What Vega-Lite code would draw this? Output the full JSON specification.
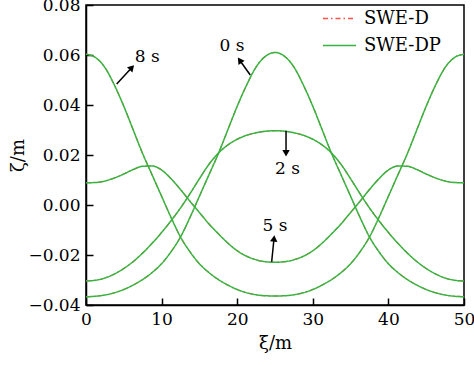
{
  "$schema": "https://vega.github.io/schema/vega-lite/v6.json",
  "width": 378,
  "height": 300,
  "autosize": "none",
  "padding": {"left": 86, "top": 5, "right": 10, "bottom": 60},
  "background": "white",
  "config": {
    "view": {"stroke": "black", "strokeWidth": 1.5},
    "font": "DejaVu Serif",
    "axis": {
      "domainColor": "black", "domainWidth": 1.5,
      "tickColor": "black", "tickWidth": 1.5, "tickSize": -7,
      "labelFont": "DejaVu Serif", "labelFontSize": 17, "labelColor": "black", "labelPadding": 13,
      "titleFont": "DejaVu Serif", "titleFontSize": 18, "titleFontWeight": "normal", "titleColor": "black",
      "grid": false, "labelFlush": false
    },
    "legend": {"labelFont": "DejaVu Serif"},
    "text": {"font": "DejaVu Serif"}
  },
  "datasets": {
    "curves": [
      {"model":"SWE-D","x":0,"0 s":-0.0367,"2 s":-0.0304,"5 s":0.0089,"8 s":0.0603},
      {"model":"SWE-D","x":1.25,"0 s":-0.0365,"2 s":-0.0301,"5 s":0.0090,"8 s":0.0590},
      {"model":"SWE-D","x":2.5,"0 s":-0.0360,"2 s":-0.0292,"5 s":0.0096,"8 s":0.0550},
      {"model":"SWE-D","x":3.75,"0 s":-0.0351,"2 s":-0.0276,"5 s":0.0108,"8 s":0.0480},
      {"model":"SWE-D","x":5,"0 s":-0.0338,"2 s":-0.0254,"5 s":0.0124,"8 s":0.0395},
      {"model":"SWE-D","x":6.25,"0 s":-0.0320,"2 s":-0.0226,"5 s":0.0142,"8 s":0.0300},
      {"model":"SWE-D","x":7.5,"0 s":-0.0298,"2 s":-0.0192,"5 s":0.0155,"8 s":0.0205},
      {"model":"SWE-D","x":8.75,"0 s":-0.0270,"2 s":-0.0153,"5 s":0.0156,"8 s":0.0120},
      {"model":"SWE-D","x":10,"0 s":-0.0235,"2 s":-0.0110,"5 s":0.0140,"8 s":0.0035},
      {"model":"SWE-D","x":11.25,"0 s":-0.0187,"2 s":-0.0063,"5 s":0.0105,"8 s":-0.0050},
      {"model":"SWE-D","x":12.5,"0 s":-0.0128,"2 s":-0.0012,"5 s":0.0062,"8 s":-0.0128},
      {"model":"SWE-D","x":13.75,"0 s":-0.0050,"2 s":0.0045,"5 s":0.0015,"8 s":-0.0187},
      {"model":"SWE-D","x":15,"0 s":0.0035,"2 s":0.0105,"5 s":-0.0030,"8 s":-0.0235},
      {"model":"SWE-D","x":16.25,"0 s":0.0120,"2 s":0.0162,"5 s":-0.0075,"8 s":-0.0270},
      {"model":"SWE-D","x":17.5,"0 s":0.0205,"2 s":0.0207,"5 s":-0.0115,"8 s":-0.0298},
      {"model":"SWE-D","x":18.75,"0 s":0.0300,"2 s":0.0240,"5 s":-0.0152,"8 s":-0.0320},
      {"model":"SWE-D","x":20,"0 s":0.0395,"2 s":0.0263,"5 s":-0.0183,"8 s":-0.0338},
      {"model":"SWE-D","x":21.25,"0 s":0.0480,"2 s":0.0279,"5 s":-0.0205,"8 s":-0.0351},
      {"model":"SWE-D","x":22.5,"0 s":0.0552,"2 s":0.0289,"5 s":-0.0219,"8 s":-0.0359},
      {"model":"SWE-D","x":23.75,"0 s":0.0595,"2 s":0.0295,"5 s":-0.0227,"8 s":-0.0363},
      {"model":"SWE-D","x":25,"0 s":0.0610,"2 s":0.0297,"5 s":-0.0229,"8 s":-0.0364},
      {"model":"SWE-D","x":26.25,"0 s":0.0595,"2 s":0.0295,"5 s":-0.0227,"8 s":-0.0363},
      {"model":"SWE-D","x":27.5,"0 s":0.0552,"2 s":0.0289,"5 s":-0.0219,"8 s":-0.0359},
      {"model":"SWE-D","x":28.75,"0 s":0.0480,"2 s":0.0279,"5 s":-0.0205,"8 s":-0.0351},
      {"model":"SWE-D","x":30,"0 s":0.0395,"2 s":0.0263,"5 s":-0.0183,"8 s":-0.0338},
      {"model":"SWE-D","x":31.25,"0 s":0.0300,"2 s":0.0240,"5 s":-0.0152,"8 s":-0.0320},
      {"model":"SWE-D","x":32.5,"0 s":0.0205,"2 s":0.0207,"5 s":-0.0115,"8 s":-0.0298},
      {"model":"SWE-D","x":33.75,"0 s":0.0120,"2 s":0.0162,"5 s":-0.0075,"8 s":-0.0270},
      {"model":"SWE-D","x":35,"0 s":0.0035,"2 s":0.0105,"5 s":-0.0030,"8 s":-0.0235},
      {"model":"SWE-D","x":36.25,"0 s":-0.0050,"2 s":0.0045,"5 s":0.0015,"8 s":-0.0187},
      {"model":"SWE-D","x":37.5,"0 s":-0.0128,"2 s":-0.0012,"5 s":0.0062,"8 s":-0.0128},
      {"model":"SWE-D","x":38.75,"0 s":-0.0187,"2 s":-0.0063,"5 s":0.0105,"8 s":-0.0050},
      {"model":"SWE-D","x":40,"0 s":-0.0235,"2 s":-0.0110,"5 s":0.0140,"8 s":0.0035},
      {"model":"SWE-D","x":41.25,"0 s":-0.0270,"2 s":-0.0153,"5 s":0.0156,"8 s":0.0120},
      {"model":"SWE-D","x":42.5,"0 s":-0.0298,"2 s":-0.0192,"5 s":0.0155,"8 s":0.0205},
      {"model":"SWE-D","x":43.75,"0 s":-0.0320,"2 s":-0.0226,"5 s":0.0142,"8 s":0.0300},
      {"model":"SWE-D","x":45,"0 s":-0.0338,"2 s":-0.0254,"5 s":0.0124,"8 s":0.0395},
      {"model":"SWE-D","x":46.25,"0 s":-0.0351,"2 s":-0.0276,"5 s":0.0108,"8 s":0.0480},
      {"model":"SWE-D","x":47.5,"0 s":-0.0360,"2 s":-0.0292,"5 s":0.0096,"8 s":0.0550},
      {"model":"SWE-D","x":48.75,"0 s":-0.0365,"2 s":-0.0301,"5 s":0.0090,"8 s":0.0590},
      {"model":"SWE-D","x":50,"0 s":-0.0367,"2 s":-0.0304,"5 s":0.0089,"8 s":0.0603},
      {"model":"SWE-DP","x":0,"0 s":-0.0367,"2 s":-0.0304,"5 s":0.0089,"8 s":0.0603},
      {"model":"SWE-DP","x":1.25,"0 s":-0.0365,"2 s":-0.0301,"5 s":0.0090,"8 s":0.0590},
      {"model":"SWE-DP","x":2.5,"0 s":-0.0360,"2 s":-0.0292,"5 s":0.0096,"8 s":0.0550},
      {"model":"SWE-DP","x":3.75,"0 s":-0.0351,"2 s":-0.0276,"5 s":0.0108,"8 s":0.0480},
      {"model":"SWE-DP","x":5,"0 s":-0.0338,"2 s":-0.0254,"5 s":0.0124,"8 s":0.0395},
      {"model":"SWE-DP","x":6.25,"0 s":-0.0320,"2 s":-0.0226,"5 s":0.0142,"8 s":0.0300},
      {"model":"SWE-DP","x":7.5,"0 s":-0.0298,"2 s":-0.0192,"5 s":0.0155,"8 s":0.0205},
      {"model":"SWE-DP","x":8.75,"0 s":-0.0270,"2 s":-0.0153,"5 s":0.0156,"8 s":0.0120},
      {"model":"SWE-DP","x":10,"0 s":-0.0235,"2 s":-0.0110,"5 s":0.0140,"8 s":0.0035},
      {"model":"SWE-DP","x":11.25,"0 s":-0.0187,"2 s":-0.0063,"5 s":0.0105,"8 s":-0.0050},
      {"model":"SWE-DP","x":12.5,"0 s":-0.0128,"2 s":-0.0012,"5 s":0.0062,"8 s":-0.0128},
      {"model":"SWE-DP","x":13.75,"0 s":-0.0050,"2 s":0.0045,"5 s":0.0015,"8 s":-0.0187},
      {"model":"SWE-DP","x":15,"0 s":0.0035,"2 s":0.0105,"5 s":-0.0030,"8 s":-0.0235},
      {"model":"SWE-DP","x":16.25,"0 s":0.0120,"2 s":0.0162,"5 s":-0.0075,"8 s":-0.0270},
      {"model":"SWE-DP","x":17.5,"0 s":0.0205,"2 s":0.0207,"5 s":-0.0115,"8 s":-0.0298},
      {"model":"SWE-DP","x":18.75,"0 s":0.0300,"2 s":0.0240,"5 s":-0.0152,"8 s":-0.0320},
      {"model":"SWE-DP","x":20,"0 s":0.0395,"2 s":0.0263,"5 s":-0.0183,"8 s":-0.0338},
      {"model":"SWE-DP","x":21.25,"0 s":0.0480,"2 s":0.0279,"5 s":-0.0205,"8 s":-0.0351},
      {"model":"SWE-DP","x":22.5,"0 s":0.0552,"2 s":0.0289,"5 s":-0.0219,"8 s":-0.0359},
      {"model":"SWE-DP","x":23.75,"0 s":0.0595,"2 s":0.0295,"5 s":-0.0227,"8 s":-0.0363},
      {"model":"SWE-DP","x":25,"0 s":0.0610,"2 s":0.0297,"5 s":-0.0229,"8 s":-0.0364},
      {"model":"SWE-DP","x":26.25,"0 s":0.0595,"2 s":0.0295,"5 s":-0.0227,"8 s":-0.0363},
      {"model":"SWE-DP","x":27.5,"0 s":0.0552,"2 s":0.0289,"5 s":-0.0219,"8 s":-0.0359},
      {"model":"SWE-DP","x":28.75,"0 s":0.0480,"2 s":0.0279,"5 s":-0.0205,"8 s":-0.0351},
      {"model":"SWE-DP","x":30,"0 s":0.0395,"2 s":0.0263,"5 s":-0.0183,"8 s":-0.0338},
      {"model":"SWE-DP","x":31.25,"0 s":0.0300,"2 s":0.0240,"5 s":-0.0152,"8 s":-0.0320},
      {"model":"SWE-DP","x":32.5,"0 s":0.0205,"2 s":0.0207,"5 s":-0.0115,"8 s":-0.0298},
      {"model":"SWE-DP","x":33.75,"0 s":0.0120,"2 s":0.0162,"5 s":-0.0075,"8 s":-0.0270},
      {"model":"SWE-DP","x":35,"0 s":0.0035,"2 s":0.0105,"5 s":-0.0030,"8 s":-0.0235},
      {"model":"SWE-DP","x":36.25,"0 s":-0.0050,"2 s":0.0045,"5 s":0.0015,"8 s":-0.0187},
      {"model":"SWE-DP","x":37.5,"0 s":-0.0128,"2 s":-0.0012,"5 s":0.0062,"8 s":-0.0128},
      {"model":"SWE-DP","x":38.75,"0 s":-0.0187,"2 s":-0.0063,"5 s":0.0105,"8 s":-0.0050},
      {"model":"SWE-DP","x":40,"0 s":-0.0235,"2 s":-0.0110,"5 s":0.0140,"8 s":0.0035},
      {"model":"SWE-DP","x":41.25,"0 s":-0.0270,"2 s":-0.0153,"5 s":0.0156,"8 s":0.0120},
      {"model":"SWE-DP","x":42.5,"0 s":-0.0298,"2 s":-0.0192,"5 s":0.0155,"8 s":0.0205},
      {"model":"SWE-DP","x":43.75,"0 s":-0.0320,"2 s":-0.0226,"5 s":0.0142,"8 s":0.0300},
      {"model":"SWE-DP","x":45,"0 s":-0.0338,"2 s":-0.0254,"5 s":0.0124,"8 s":0.0395},
      {"model":"SWE-DP","x":46.25,"0 s":-0.0351,"2 s":-0.0276,"5 s":0.0108,"8 s":0.0480},
      {"model":"SWE-DP","x":47.5,"0 s":-0.0360,"2 s":-0.0292,"5 s":0.0096,"8 s":0.0550},
      {"model":"SWE-DP","x":48.75,"0 s":-0.0365,"2 s":-0.0301,"5 s":0.0090,"8 s":0.0590},
      {"model":"SWE-DP","x":50,"0 s":-0.0367,"2 s":-0.0304,"5 s":0.0089,"8 s":0.0603}
    ],
    "arrows": [
      {"label":"8 s","x0":4.06,"y0":0.0484,"hx":6.07,"hy":0.0550,"tx":8.1,"ty":0.0592},
      {"label":"0 s","x0":21.73,"y0":0.052,"hx":20.33,"hy":0.0579,"tx":19.3,"ty":0.0636},
      {"label":"2 s","x0":26.46,"y0":0.0297,"hx":26.46,"hy":0.0207,"tx":26.65,"ty":0.0146},
      {"label":"5 s","x0":24.56,"y0":-0.0227,"hx":24.87,"hy":-0.0134,"tx":25.0,"ty":-0.0082}
    ]
  },
  "layer": [
    {
      "data": {"name": "curves"},
      "transform": [
        {"filter": "datum.model === 'SWE-D'"},
        {"fold": ["0 s", "2 s", "5 s", "8 s"], "as": ["t", "zeta"]}
      ],
      "mark": {"type": "line", "strokeWidth": 1.2, "interpolate": "monotone"},
      "encoding": {
        "x": {"field": "x", "type": "quantitative", "title": "ξ/m",
              "scale": {"domain": [0, 50], "nice": false},
              "axis": {"values": [0, 10, 20, 30, 40, 50], "titlePadding": 7}},
        "y": {"field": "zeta", "type": "quantitative", "title": "ζ/m",
              "scale": {"domain": [-0.04, 0.08], "nice": false},
              "axis": {"values": [-0.04, -0.02, 0, 0.02, 0.04, 0.06, 0.08], "format": ".2f", "titlePadding": 0}},
        "detail": {"field": "t"},
        "color": {"field": "model", "type": "nominal",
                  "scale": {"domain": ["SWE-D", "SWE-DP"], "range": ["#ff5050", "#35b53f"]},
                  "legend": {"orient": "none", "legendX": 236, "legendY": -4, "title": null,
                             "symbolType": "stroke", "symbolSize": 1089, "symbolStrokeWidth": 1.5,
                             "labelFontSize": 18, "labelColor": "black",
                             "labelOffset": 7, "rowPadding": -5, "padding": 0}},
        "strokeDash": {"field": "model", "type": "nominal",
                       "scale": {"domain": ["SWE-D", "SWE-DP"], "range": [[5, 3, 1.5, 3], [1, 0]]},
                       "legend": {"orient": "none", "legendX": 236, "legendY": -4, "title": null,
                                  "symbolType": "stroke", "symbolSize": 1089, "symbolStrokeWidth": 1.5,
                                  "labelFontSize": 18, "labelColor": "black",
                                  "labelOffset": 7, "rowPadding": -5, "padding": 0}}
      }
    },
    {
      "data": {"name": "curves"},
      "transform": [
        {"filter": "datum.model === 'SWE-DP'"},
        {"fold": ["0 s", "2 s", "5 s", "8 s"], "as": ["t", "zeta"]}
      ],
      "mark": {"type": "line", "strokeWidth": 1.5, "interpolate": "monotone"},
      "encoding": {
        "x": {"field": "x", "type": "quantitative", "title": "ξ/m"},
        "y": {"field": "zeta", "type": "quantitative", "title": "ζ/m"},
        "detail": {"field": "t"},
        "color": {"field": "model", "type": "nominal"},
        "strokeDash": {"field": "model", "type": "nominal"}
      }
    },
    {
      "data": {"name": "arrows"},
      "mark": {"type": "rule", "color": "black", "strokeWidth": 1.5},
      "encoding": {
        "x": {"field": "x0", "type": "quantitative", "title": "ξ/m"},
        "y": {"field": "y0", "type": "quantitative", "title": "ζ/m"},
        "x2": {"field": "hx"},
        "y2": {"field": "hy"}
      }
    },
    {
      "data": {"name": "arrows"},
      "transform": [{"filter": "datum.label === '8 s'"}],
      "mark": {"type": "point", "shape": "triangle-up", "filled": true, "color": "black", "opacity": 1, "size": 55, "angle": 43},
      "encoding": {
        "x": {"field": "hx", "type": "quantitative", "title": "ξ/m"},
        "y": {"field": "hy", "type": "quantitative", "title": "ζ/m"}
      }
    },
    {
      "data": {"name": "arrows"},
      "transform": [{"filter": "datum.label === '0 s'"}],
      "mark": {"type": "point", "shape": "triangle-up", "filled": true, "color": "black", "opacity": 1, "size": 55, "angle": -35},
      "encoding": {
        "x": {"field": "hx", "type": "quantitative", "title": "ξ/m"},
        "y": {"field": "hy", "type": "quantitative", "title": "ζ/m"}
      }
    },
    {
      "data": {"name": "arrows"},
      "transform": [{"filter": "datum.label === '2 s'"}],
      "mark": {"type": "point", "shape": "triangle-up", "filled": true, "color": "black", "opacity": 1, "size": 55, "angle": 180},
      "encoding": {
        "x": {"field": "hx", "type": "quantitative", "title": "ξ/m"},
        "y": {"field": "hy", "type": "quantitative", "title": "ζ/m"}
      }
    },
    {
      "data": {"name": "arrows"},
      "transform": [{"filter": "datum.label === '5 s'"}],
      "mark": {"type": "point", "shape": "triangle-up", "filled": true, "color": "black", "opacity": 1, "size": 55, "angle": 6},
      "encoding": {
        "x": {"field": "hx", "type": "quantitative", "title": "ξ/m"},
        "y": {"field": "hy", "type": "quantitative", "title": "ζ/m"}
      }
    },
    {
      "data": {"name": "arrows"},
      "mark": {"type": "text", "font": "DejaVu Serif", "fontSize": 17, "color": "black", "align": "center", "baseline": "middle"},
      "encoding": {
        "x": {"field": "tx", "type": "quantitative", "title": "ξ/m"},
        "y": {"field": "ty", "type": "quantitative", "title": "ζ/m"},
        "text": {"field": "label"}
      }
    }
  ]
}
